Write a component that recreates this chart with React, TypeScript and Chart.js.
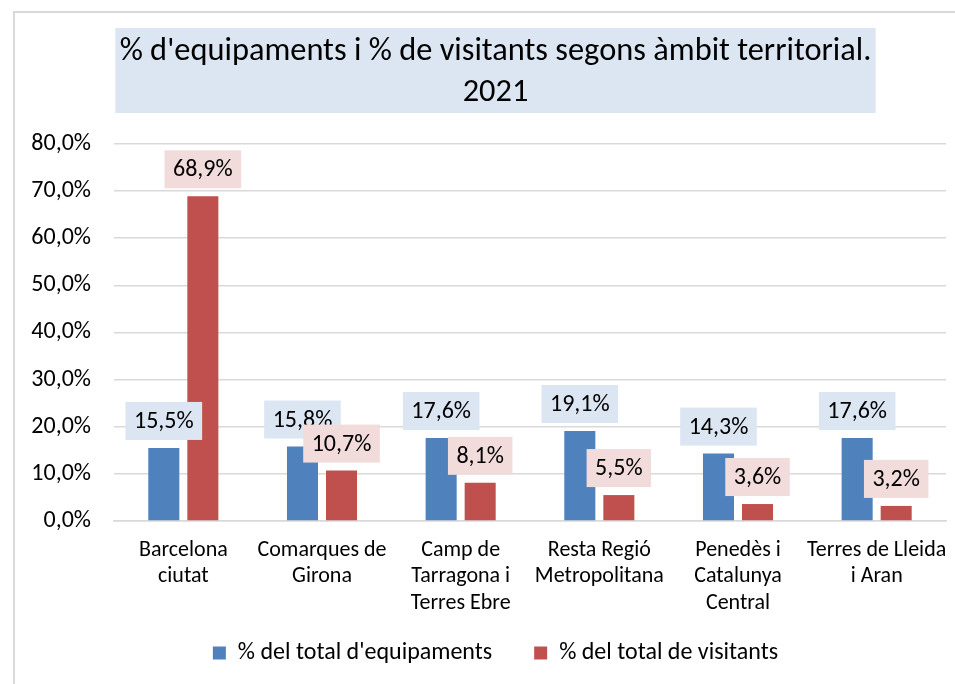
import React, { useEffect, useRef } from "react";
import { Chart, registerables } from "chart.js";

Chart.register(...registerables);

const titleLines = ["% d'equipaments i % de visitants segons àmbit territorial.", "2021"];
const categories = [
  ["Barcelona", "ciutat"],
  ["Comarques de", "Girona"],
  ["Camp de", "Tarragona i", "Terres Ebre"],
  ["Resta Regió", "Metropolitana"],
  ["Penedès i", "Catalunya", "Central"],
  ["Terres de Lleida", "i Aran"],
];
const seriesNames = ["% del total d'equipaments", "% del total de visitants"];
const equipaments = [15.5, 15.8, 17.6, 19.1, 14.3, 17.6];
const visitants = [68.9, 10.7, 8.1, 5.5, 3.6, 3.2];
const yMin = 0;
const yMax = 80;
const yStep = 10;

const FONT = "Carlito, Lato, 'Open Sans', sans-serif";
const fmt = (v: number) => v.toFixed(1).replace(".", ",") + "%";

const labelBg = ["#DCE6F2", "#F2DCDB"];

const titleBgPlugin = {
  id: "titleBg",
  beforeDraw(chart: any) {
    const tb = chart.titleBlock;
    if (!tb) return;
    const ctx = chart.ctx;
    const o = tb.options;
    const size = o.font.size;
    const lh = size * o.font.lineHeight;
    ctx.save();
    ctx.font = `${o.font.weight || "normal"} ${size}px ${o.font.family}`;
    let maxW = 0;
    for (const l of titleLines) maxW = Math.max(maxW, ctx.measureText(l).width);
    const cx = (tb.left + tb.right) / 2;
    const firstC = tb.top + o.padding.top + lh / 2;
    const lastC = firstC + (titleLines.length - 1) * lh;
    ctx.fillStyle = "#DCE6F2";
    ctx.fillRect(cx - maxW / 2 - 8, firstC - 24, maxW + 16, lastC - firstC + 44);
    ctx.restore();
  },
};

const extendXAxisPlugin = {
  id: "extendX",
  afterLayout(chart: any) {
    const x = chart.scales.x;
    if (x) x.bottom = x.top + 120;
  },
};

const dataLabelPlugin = {
  id: "dataLabels",
  afterDatasetsDraw(chart: any) {
    const ctx = chart.ctx;
    ctx.save();
    ctx.font = `24px ${FONT}`;
    ctx.textAlign = "center";
    ctx.textBaseline = "middle";
    chart.data.datasets.forEach((ds: any, di: number) => {
      const meta = chart.getDatasetMeta(di);
      meta.data.forEach((bar: any, i: number) => {
        const txt = fmt(ds.data[i]);
        const w = ctx.measureText(txt).width + 17;
        const h = 38;
        const bottom = bar.y - 8;
        ctx.fillStyle = labelBg[di];
        ctx.fillRect(bar.x - w / 2, bottom - h, w, h);
        ctx.fillStyle = "#000";
        ctx.fillText(txt, bar.x, bottom - h / 2 + 1);
      });
    });
    ctx.restore();
  },
};

export default function App() {
  const ref = useRef<HTMLCanvasElement>(null);
  useEffect(() => {
    if (!ref.current) return;
    Chart.defaults.font.family = FONT;
    Chart.defaults.color = "#000";
    const chart = new Chart(ref.current, {
      type: "bar",
      data: {
        labels: categories as any,
        datasets: [
          {
            label: seriesNames[0],
            data: equipaments,
            backgroundColor: "#4F81BD",
            borderColor: "#4F81BD",
            categoryPercentage: 0.563,
            barPercentage: 0.795,
          },
          {
            label: seriesNames[1],
            data: visitants,
            backgroundColor: "#C0504D",
            borderColor: "#C0504D",
            categoryPercentage: 0.563,
            barPercentage: 0.795,
          },
        ],
      },
      options: {
        animation: false,
        responsive: false,
        layout: { padding: { left: 0, right: 0, top: 0, bottom: 9 } },
        plugins: {
          title: {
            display: true,
            text: titleLines,
            color: "#000",
            font: { size: 32.4, weight: "normal", lineHeight: 1.265 },
            padding: { top: 18.5, bottom: 30.5 },
          },
          legend: {
            position: "bottom",
            labels: {
              boxWidth: 13,
              boxHeight: 13,
              padding: 42,
              color: "#000",
              font: { size: 24 },
            },
          },
          tooltip: { enabled: false },
        },
        scales: {
          x: {
            grid: { display: false, drawTicks: false },
            border: { display: true, color: "#d9d9d9", width: 1.5 },
            ticks: { font: { size: 22, lineHeight: 1.2 }, padding: 16, maxRotation: 0, autoSkip: false, color: "#000" },
            afterFit: (s: any) => { s.height = 78; },
          },
          y: {
            min: yMin,
            max: yMax,
            ticks: { stepSize: yStep, font: { size: 24 }, padding: 23, callback: (v: any) => fmt(Number(v)), color: "#000" },
            grid: { color: "#d9d9d9", lineWidth: 1.5, drawTicks: false },
            border: { display: false },
            afterFit: (s: any) => { s.width = 99; },
          },
          yRight: {
            position: "right",
            display: true,
            grid: { display: false, drawTicks: false },
            ticks: { display: false },
            border: { display: false },
            afterFit: (s: any) => { s.width = 30; },
          },
        },
      },
      plugins: [titleBgPlugin, extendXAxisPlugin, dataLabelPlugin],
    } as any);
    return () => chart.destroy();
  }, []);
  return (
    <div
      style={{
        position: "fixed",
        left: 13,
        top: 11,
        width: 942,
        height: 673,
        borderTop: "2px solid #d9d9d9",
        borderLeft: "2px solid #d9d9d9",
        overflow: "hidden",
        background: "#fff",
      }}
    >
      <canvas ref={ref} width={961} height={671} style={{ display: "block", width: 961, height: 671 }} />
    </div>
  );
}
